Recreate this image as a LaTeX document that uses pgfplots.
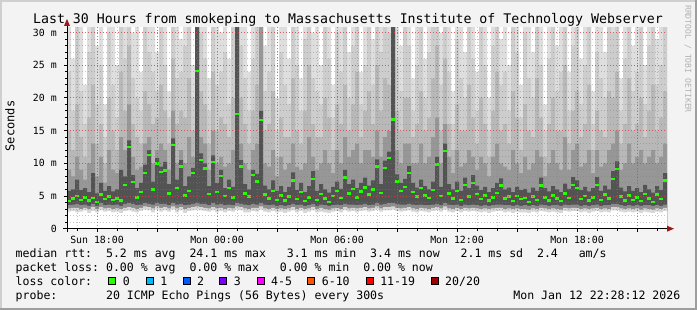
\documentclass[border=0pt]{standalone}
\usepackage{pgfplots}
\pgfplotsset{compat=1.18}
\usepackage{pgfplotstable}
\usepackage{fontspec}
\setmonofont{DejaVu Sans Mono}
\definecolor{bg}{HTML}{F3F3F3}
\definecolor{shadea}{HTML}{CFCFCF}
\definecolor{shadeb}{HTML}{9E9E9E}
\definecolor{cA}{HTML}{DEDEDE}
\definecolor{cB}{HTML}{CDCDCD}
\definecolor{cC}{HTML}{B8B8B8}
\definecolor{cD}{HTML}{979797}
\definecolor{cE}{HTML}{535353}
\definecolor{lA}{HTML}{8C8C8C}
\definecolor{lB}{HTML}{D6D6D6}
\definecolor{mgrid}{HTML}{F03030}
\definecolor{ngrid}{HTML}{808080}
\definecolor{arrowred}{HTML}{9A1818}
\definecolor{lc0}{HTML}{26FF00}
\definecolor{lc1}{HTML}{00B8FF}
\definecolor{lc2}{HTML}{0059FF}
\definecolor{lc3}{HTML}{7E00FF}
\definecolor{lc4}{HTML}{FF00FF}
\definecolor{lc5}{HTML}{FF5500}
\definecolor{lc6}{HTML}{FF0000}
\definecolor{lc7}{HTML}{A10000}
\newcommand{\mono}[1]{\fontsize{#1}{#1}\selectfont\ttfamily}

\pgfplotstableread{
t h1 h2 h3 h4 h5 md la lb lc
0.0 32 24 15 9 5.8 4.2 3.6 3.1 2.6
0.2 26 18 12 8 6.0 4.6 3.7 3.2 2.7
0.4 32 32 19 11 7.5 5.0 3.8 3.2 2.5
0.6 32 21 14 9 5.9 4.4 3.6 3.0 2.6
0.8 22 16 11 7.5 6.2 4.8 3.7 3.2 2.8
1.0 32 27 17 10 5.6 4.3 3.5 3.0 2.4
1.2 32 32 22 13 8.5 4.7 3.8 3.3 2.7
1.4 28 19 13 8 5.4 4.1 3.5 3.0 2.5
1.6 32 25 16 11 7.0 5.2 3.9 3.3 2.8
1.8 19 14 10 7 5.8 4.5 3.6 3.1 2.6
2.0 32 30 20 12 6.5 4.9 3.7 3.2 2.7
2.2 32 22 15 9 5.7 4.4 3.6 3.0 2.5
2.4 25 17 12 8.5 6.0 4.6 3.7 3.1 2.6
2.6 32 32 24 14 9.0 4.3 3.5 3.0 2.4
2.8 32 26 18 12 8.0 6.7 3.8 3.2 2.7
3.0 32 32 28 19 13.5 12.5 3.9 3.3 2.8
3.2 30 23 16 11 8.2 7.1 3.8 3.2 2.6
3.4 32 20 14 9 6.2 4.8 3.6 3.0 2.5
3.6 24 18 13 9.5 7.0 5.6 3.7 3.2 2.7
3.8 32 32 21 13 9.8 8.5 3.9 3.4 2.9
4.0 32 27 19 14 12.0 11.3 3.8 3.3 2.8
4.2 32 24 16 10 7.2 6.0 3.7 3.1 2.5
4.4 27 21 17 12 10.8 10.0 3.9 3.4 2.9
4.6 32 32 22 13 9.5 8.7 3.8 3.2 2.6
4.8 32 25 18 12 10.2 8.9 3.8 3.3 2.8
5.0 21 17 13 9 6.8 5.4 3.6 3.1 2.6
5.2 32 32 26 18 13.8 12.8 3.9 3.4 2.9
5.4 32 23 16 10 7.5 6.2 3.7 3.1 2.5
5.6 29 24 18 12 10.5 9.5 3.8 3.3 2.8
5.8 32 28 17 10 6.5 5.1 3.6 3.0 2.4
6.0 32 32 23 14 8.0 5.8 3.7 3.2 2.7
6.2 25 20 15 11 9.3 8.5 3.8 3.3 2.8
6.4 32 32 32 32 32 24.1 3.9 3.4 2.9
6.6 32 30 21 14 11.5 10.5 3.8 3.3 2.8
6.8 32 26 19 13 10.0 9.2 3.8 3.2 2.7
7.0 23 18 13 9 6.5 5.3 3.6 3.1 2.6
7.2 32 32 24 15 11.2 10.2 3.9 3.3 2.8
7.4 32 22 15 10 7.0 5.6 3.7 3.1 2.5
7.6 30 24 17 11 9.0 8.1 3.8 3.2 2.7
7.8 32 27 16 9.5 6.2 5.0 3.6 3.0 2.5
8.0 26 19 14 10 7.5 6.2 3.7 3.2 2.7
8.2 32 32 20 12 6.4 4.8 3.6 3.1 2.6
8.4 32 32 32 32 32 17.5 3.9 3.4 2.9
8.6 32 28 20 13 10.5 9.5 3.8 3.3 2.8
8.8 32 23 16 10 6.8 5.4 3.7 3.1 2.5
9.0 24 18 13 9 6.0 4.9 3.6 3.0 2.5
9.2 32 26 18 12 9.0 8.2 3.8 3.2 2.7
9.4 32 32 22 13 8.4 7.2 3.7 3.2 2.6
9.6 32 32 32 32 18 16.6 3.9 3.4 2.9
9.8 28 21 15 10 6.6 5.2 3.7 3.1 2.6
10.0 32 24 16 9.5 6.0 4.6 3.6 3.0 2.5
10.2 32 32 21 12 7.4 5.8 3.7 3.2 2.7
10.4 20 15 11 8 5.8 4.4 3.5 3.0 2.5
10.6 32 27 17 11 6.5 5.1 3.6 3.1 2.6
10.8 32 22 14 9 5.6 4.3 3.5 3.0 2.4
11.0 26 19 14 10 6.4 4.9 3.6 3.1 2.6
11.2 32 32 23 13 8.6 7.4 3.8 3.3 2.8
11.4 32 25 15 9.5 5.9 4.5 3.6 3.0 2.5
11.6 23 18 13 9 7.0 5.6 3.7 3.2 2.7
11.8 32 29 18 10 5.6 4.2 3.5 3.0 2.4
12.0 32 32 25 14 6.5 4.8 3.6 3.1 2.6
12.2 30 23 16 11 8.8 7.6 3.8 3.3 2.8
12.4 32 21 14 9 5.8 4.4 3.5 3.0 2.5
12.6 25 19 14 10 6.8 5.3 3.7 3.2 2.6
12.8 32 32 20 12 6.0 4.6 3.6 3.0 2.5
13.0 32 26 17 10 5.5 4.1 3.5 2.9 2.4
13.2 22 17 12 8.5 6.4 5.0 3.6 3.1 2.6
13.4 32 30 19 12 7.2 5.8 3.7 3.2 2.7
13.6 32 24 16 10 6.1 4.7 3.6 3.0 2.5
13.8 32 32 22 14 9.0 7.8 3.8 3.3 2.8
14.0 27 20 15 11 6.8 5.4 3.7 3.1 2.6
14.2 32 28 19 12 7.5 6.1 3.7 3.2 2.7
14.4 32 32 24 13 6.2 4.8 3.6 3.1 2.5
14.6 24 19 14 10 7.0 5.7 3.7 3.2 2.7
14.8 32 25 18 12 7.8 6.3 3.8 3.3 2.8
15.0 32 32 21 12 6.6 5.2 3.6 3.1 2.6
15.2 29 22 16 11 7.4 6.0 3.7 3.2 2.7
15.4 32 32 25 15 10.6 9.5 3.9 3.4 2.9
15.6 32 27 18 11 6.8 5.5 3.7 3.1 2.6
15.8 32 32 23 14 10.4 9.3 3.8 3.3 2.8
16.0 32 30 22 15 11.8 10.8 3.9 3.3 2.8
16.2 32 32 32 32 32 16.7 3.9 3.4 2.9
16.4 32 26 18 12 8.3 7.2 3.8 3.2 2.7
16.6 28 21 15 10 7.0 5.8 3.7 3.1 2.6
16.8 32 32 20 13 7.6 6.4 3.7 3.2 2.7
17.0 32 28 20 13 9.6 8.5 3.8 3.3 2.8
17.2 23 18 14 10 7.0 5.6 3.7 3.1 2.6
17.4 32 25 16 10 6.3 4.9 3.6 3.0 2.5
17.6 32 32 21 13 7.5 6.2 3.7 3.2 2.7
17.8 26 20 15 10 6.5 5.1 3.6 3.1 2.6
18.0 32 27 17 11 6.0 4.7 3.6 3.0 2.5
18.2 32 32 23 14 7.2 5.9 3.7 3.2 2.7
18.4 32 32 28 17 11.0 9.8 3.8 3.3 2.8
18.6 30 22 15 10 6.4 5.0 3.6 3.1 2.6
18.8 32 32 26 16 13.0 11.9 3.9 3.4 2.9
19.0 32 24 16 11 6.8 5.4 3.7 3.1 2.6
19.2 21 16 12 8.5 6.0 4.6 3.6 3.0 2.5
19.4 32 29 19 12 7.2 5.8 3.7 3.2 2.7
19.6 32 23 15 9.5 5.8 4.4 3.5 3.0 2.5
19.8 27 20 15 10 7.8 6.7 3.7 3.2 2.7
20.0 32 32 22 12 6.2 4.9 3.6 3.1 2.6
20.2 32 26 17 11 8.2 7.0 3.7 3.2 2.7
20.4 24 18 13 9 6.6 5.3 3.6 3.1 2.6
20.6 32 32 20 11 5.9 4.5 3.5 3.0 2.5
20.8 32 25 16 10 6.4 5.1 3.6 3.1 2.6
21.0 20 15 11 8 5.6 4.3 3.5 3.0 2.4
21.2 32 28 18 11 6.2 4.8 3.6 3.1 2.6
21.4 32 32 24 13 7.0 5.5 3.7 3.2 2.7
21.6 29 22 15 10 7.7 6.6 3.7 3.2 2.7
21.8 32 24 16 9.5 6.0 4.6 3.6 3.0 2.5
22.0 25 18 13 9 6.3 4.9 3.6 3.1 2.6
22.2 32 32 21 12 5.6 4.2 3.5 3.0 2.4
22.4 32 27 17 10 6.4 5.0 3.6 3.1 2.6
22.6 22 17 12 8.5 5.9 4.5 3.5 3.0 2.5
22.8 32 30 19 11 6.1 4.7 3.6 3.0 2.5
23.0 32 23 15 9 5.5 4.1 3.5 2.9 2.4
23.2 27 20 14 10 6.3 4.9 3.6 3.1 2.6
23.4 32 32 23 12 5.8 4.4 3.5 3.0 2.5
23.6 32 25 17 11 7.8 6.6 3.7 3.2 2.7
23.8 19 15 11 8 6.2 4.8 3.6 3.1 2.6
24.0 32 26 16 10 5.7 4.3 3.5 3.0 2.5
24.2 32 32 20 12 6.5 5.1 3.6 3.1 2.6
24.4 28 21 15 10 6.0 4.6 3.6 3.0 2.5
24.6 32 24 15 9 5.6 4.2 3.5 2.9 2.4
24.8 32 32 25 14 6.9 5.4 3.7 3.2 2.7
25.0 24 18 13 9 6.1 4.7 3.6 3.1 2.6
25.2 32 28 18 12 7.9 6.7 3.7 3.2 2.7
25.4 32 32 21 13 7.4 6.2 3.7 3.2 2.7
25.6 26 19 14 9.5 5.9 4.5 3.5 3.0 2.5
25.8 32 25 16 10 6.4 5.0 3.6 3.1 2.6
26.0 32 32 22 12 5.7 4.3 3.5 3.0 2.4
26.2 21 16 12 8.5 6.2 4.8 3.6 3.1 2.6
26.4 32 27 18 12 7.9 6.7 3.7 3.2 2.7
26.6 32 23 15 9.5 5.8 4.4 3.5 3.0 2.5
26.8 27 20 14 10 6.6 5.2 3.6 3.1 2.6
27.0 32 32 21 12 6.0 4.6 3.6 3.0 2.5
27.2 32 30 20 13 8.8 7.6 3.8 3.3 2.8
27.4 32 32 24 15 10.3 9.1 3.8 3.3 2.8
27.6 23 18 13 9 6.3 4.9 3.6 3.1 2.6
27.8 32 26 16 10 5.7 4.3 3.5 3.0 2.5
28.0 32 32 23 13 6.5 5.1 3.6 3.1 2.6
28.2 28 21 15 10 5.8 4.4 3.5 3.0 2.5
28.4 32 24 16 11 6.2 4.8 3.6 3.1 2.6
28.6 32 32 20 12 5.6 4.2 3.5 2.9 2.4
28.8 25 19 14 10 6.7 5.3 3.6 3.1 2.6
29.0 32 28 18 11 6.0 4.6 3.6 3.0 2.5
29.2 32 32 22 12 5.5 4.1 3.5 2.9 2.4
29.4 29 22 15 10 6.5 5.2 3.6 3.1 2.6
29.6 32 25 17 11 5.9 4.5 3.5 3.0 2.5
29.8 32 32 21 13 8.5 7.4 3.7 3.2 2.7
30.0 32 32 21 13 8.5 7.4 3.7 3.2 2.7
}\smoke

\begin{document}
\begin{tikzpicture}
\path[use as bounding box] (0,0) rectangle (522.75pt,232.5pt);
\fill[bg] (0,0) rectangle (522.75pt,232.5pt);
\fill[shadea] (0,0) rectangle (1.5pt,232.5pt);
\fill[shadea] (0,231pt) rectangle (522.75pt,232.5pt);
\fill[shadeb] (521.25pt,0) rectangle (522.75pt,232.5pt);
\fill[shadeb] (0,0) rectangle (522.75pt,1.5pt);

\begin{axis}[
  at={(50.25pt,60.975pt)}, anchor=south west,
  scale only axis, width=450pt, height=151.05pt,
  xmin=0, xmax=30, ymin=0, ymax=30.8,
  axis background/.style={fill=white},
  axis line style={draw=none},
  axis on top,
  xtick={1.5,4.5,...,28.5},
  xticklabels={Sun 18:00,,Mon 00:00,,Mon 06:00,,Mon 12:00,,Mon 18:00,},
  minor xtick={0.5,1.5,...,29.5},
  ytick={0,5,...,30},
  yticklabels={0,5 m,10 m,15 m,20 m,25 m,30 m},
  minor ytick={1,2,...,30},
  grid=both,
  major grid style={draw=mgrid, draw opacity=0.65, dash pattern=on 0.75pt off 1.5pt, line width=0.75pt},
  minor grid style={draw=ngrid, draw opacity=0.45, dash pattern=on 0.75pt off 1.5pt, line width=0.75pt},
  tick align=outside, tick pos=left,
  major tick length=2.25pt, minor tick length=1.5pt,
  tick style={black, line width=0.75pt},
  ticklabel style={font=\mono{7.4pt}, inner sep=0pt},
  xticklabel style={anchor=north, yshift=-3.45pt},
  yticklabel style={anchor=east, xshift=-5.25pt},
]
\addplot[fill=cA, draw=none, const plot mark left] table[x=t,y=h1]{\smoke} \closedcycle;
\addplot[fill=cB, draw=none, const plot mark left] table[x=t,y=h2]{\smoke} \closedcycle;
\addplot[fill=cC, draw=none, const plot mark left] table[x=t,y=h3]{\smoke} \closedcycle;
\addplot[fill=cD, draw=none, const plot mark left] table[x=t,y=h4]{\smoke} \closedcycle;
\addplot[fill=cE, draw=none, const plot mark left] table[x=t,y=h5]{\smoke} \closedcycle;
\addplot[fill=lA, draw=none, const plot mark left] table[x=t,y=la]{\smoke} \closedcycle;
\addplot[fill=lB, draw=none, const plot mark left] table[x=t,y=lb]{\smoke} \closedcycle;
\addplot[fill=white, draw=none, const plot mark left] table[x=t,y=lc]{\smoke} \closedcycle;
\addplot[draw=lc0, line width=1.8pt, jump mark left] table[x=t,y=md]{\smoke};
\end{axis}

\draw[black, line width=0.75pt] (47.25pt,60.975pt) -- (500.25pt,60.975pt);
\fill[arrowred] (500.25pt,58.725pt) -- (505.5pt,60.975pt) -- (500.25pt,63.225pt) -- cycle;
\draw[black, line width=0.75pt] (50.25pt,58.5pt) -- (50.25pt,213pt);
\fill[arrowred] (48pt,213pt) -- (50.25pt,218.25pt) -- (52.5pt,213pt) -- cycle;

\node[anchor=base, inner sep=0pt, font=\mono{9.93pt}] at (261pt,214.5pt) {Last 30 Hours from smokeping to Massachusetts Institute of Technology Webserver};
\node[rotate=90, inner sep=0pt, font=\mono{9pt}] at (7.5pt,138pt) {Seconds};
\node[rotate=-90, inner sep=0pt, font=\mono{6.1pt}, text=gray!60] at (516pt,188.25pt) {RRDTOOL / TOBI OETIKER};

\begin{scope}[every node/.style={anchor=base west, inner sep=0pt, font=\mono{8.66pt}}]
\node at (11.6pt,39.375pt) {median~rtt:~~5.2~ms~avg~~24.1~ms~max~~~3.1~ms~min~~3.4~ms~now~~~2.1~ms~sd~~2.4~~~am/s};
\node at (11.6pt,28.875pt) {packet~loss:~0.00~\%~avg~~0.00~\%~max~~~0.00~\%~min~~0.00~\%~now};
\node at (11.6pt,18.375pt) {loss~color:};
\node at (11.6pt,7.875pt) {probe:~~~~~~~20~ICMP~Echo~Pings~(56~Bytes)~every~300s};
\node[anchor=base east] at (510.4pt,7.875pt) {Mon~Jan~12~22:28:12~2026};
\foreach \bx/\col/\lab in {81.2/lc0/0, 109.3/lc1/1, 137.0/lc2/2, 164.5/lc3/3, 192.5/lc4/4-5, 230.5/lc5/6-10, 274.3/lc6/11-19, 323.0/lc7/20\slash 20}{
  \filldraw[fill=\col, draw=black, line width=0.75pt] (\bx pt+0.375pt,18.75pt) rectangle ++(5.3pt,5.3pt);
  \node at (\bx pt+10.7pt,18.375pt) {\lab};
}
\end{scope}
\end{tikzpicture}
\end{document}
